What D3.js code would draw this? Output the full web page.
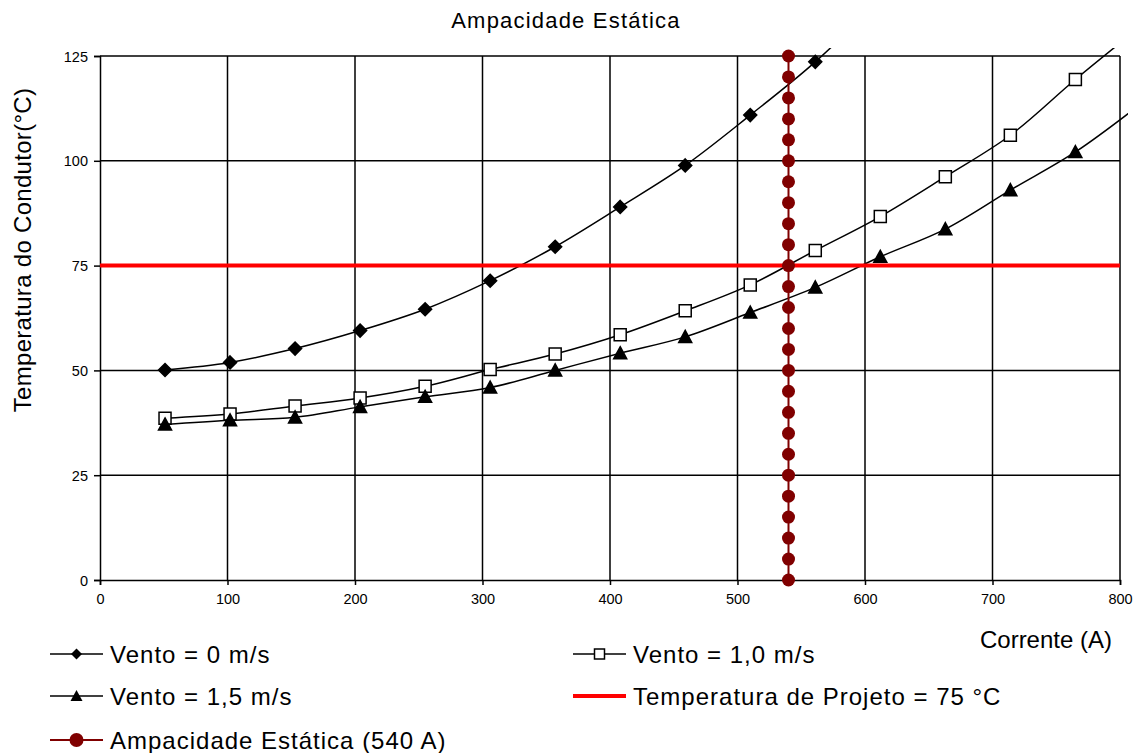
<!DOCTYPE html>
<html><head><meta charset="utf-8">
<script src="https://cdn.jsdelivr.net/npm/d3@7"></script>
<style>
html,body{margin:0;padding:0;background:#fff;}
text{font-family:Arial,"Liberation Sans",sans-serif;fill:#000;}
</style></head>
<body>
<svg id="chart" width="1140" height="753"></svg>
<script>
// ---- data ----
const currents = [51,102,153,204,255,306,357,408,459,510,561,612,663,714,765,816];
const vento0  = [50.1,51.9,55.2,59.5,64.6,71.4,79.5,89.0,98.9,110.9,123.6,138.5];
const vento10 = [38.6,39.6,41.5,43.4,46.2,50.2,53.9,58.5,64.2,70.4,78.6,86.7,96.2,106.1,119.4,132.0];
const vento15 = [37.1,38.1,38.8,41.3,43.7,45.9,50.0,54.1,58.0,63.8,69.8,77.1,83.7,93.0,102.1,113.5];
const projetoX = [0,800];
const projetoTemp = [75,75];
const ampX = 540;
const ampY = [0,5,10,15,20,25,30,35,40,45,50,55,60,65,70,75,80,85,90,95,100,105,110,115,120,125];
const xTicks = [0,100,200,300,400,500,600,700,800];
const yTicks = [0,25,50,75,100,125];
const seriesNames = ["Vento = 0 m/s","Vento = 1,0 m/s","Vento = 1,5 m/s","Temperatura de Projeto = 75 °C","Ampacidade Estática (540 A)"];

// ---- layout ----
const L=100,R=1120,T=56,B=580;
const svg=d3.select("#chart");
const x=d3.scaleLinear().domain([0,800]).range([L,R]);
const y=d3.scaleLinear().domain([0,125]).range([B,T]);

// title
svg.append("text").attr("x",566).attr("y",28).attr("text-anchor","middle")
  .style("font-size","22px").style("letter-spacing","1.2px").text("Ampacidade Estática");

// grid
const g=svg.append("g");
g.selectAll("line.h").data(yTicks.filter(d=>d>0)).join("line")
  .attr("x1",L).attr("x2",R).attr("y1",d=>y(d)).attr("y2",d=>y(d))
  .attr("stroke","#000").attr("stroke-width",1.5);
g.selectAll("line.v").data(xTicks.filter(d=>d>0)).join("line")
  .attr("y1",T).attr("y2",B).attr("x1",d=>x(d)).attr("x2",d=>x(d))
  .attr("stroke","#000").attr("stroke-width",1.5);

// axes
const xAxis=d3.axisBottom(x).tickValues(xTicks).tickSize(5).tickPadding(9).tickFormat(d3.format("d"));
const yAxis=d3.axisLeft(y).tickValues(yTicks).tickSize(6).tickPadding(6).tickFormat(d3.format("d"));
const gx=svg.append("g").attr("transform",`translate(0,${B})`).call(xAxis);
const gy=svg.append("g").attr("transform",`translate(${L},0)`).call(yAxis);
[gx,gy].forEach(a=>{
  a.select(".domain").attr("stroke","#000").attr("stroke-width",1.5);
  a.selectAll(".tick line").attr("stroke","#000").attr("stroke-width",1.5);
  a.selectAll(".tick text").style("font-size","14.5px").attr("fill","#000").style("font-family","Arial, 'Liberation Sans', sans-serif");
});
gy.selectAll(".tick text").attr("dy","0.35em");

// axis titles
svg.append("text").attr("transform","translate(31,250) rotate(-90)").attr("text-anchor","middle")
  .style("font-size","24px").style("letter-spacing","0.3px").text("Temperatura do Condutor(°C)");
svg.append("text").attr("x",1112).attr("y",648).attr("text-anchor","end")
  .style("font-size","24px").text("Corrente (A)");

// clip for series
svg.append("defs").append("clipPath").attr("id","clip").append("rect")
  .attr("x",L-2).attr("y",48).attr("width",R-L+10).attr("height",B-48+2);

const line=d3.line().x(d=>x(d[0])).y(d=>y(d[1])).curve(d3.curveCatmullRom.alpha(0.5));

function diamond(s){return `M0,${-s}L${s},0L0,${s}L${-s},0Z`;}
function square(s){return `M${-s},${-s}H${s}V${s}H${-s}Z`;}
function triangle(s){return `M0,${-s}L${s},${s*0.85}L${-s},${s*0.85}Z`;}

const series=[
  {vals:vento0, marker:diamond, size:6.5, fill:"#000"},
  {vals:vento10, marker:square, size:6, fill:"#fff"},
  {vals:vento15, marker:triangle, size:6.5, fill:"#000"}
];
series.forEach(s=>{
  const pts=s.vals.map((v,i)=>[currents[i],v]);
  svg.append("path").datum(pts).attr("d",line).attr("fill","none")
    .attr("stroke","#000").attr("stroke-width",1.5).attr("clip-path","url(#clip)");
  svg.append("g").selectAll("path").data(pts.filter(p=>p[1]<=125&&p[0]<=800)).join("path")
    .attr("transform",p=>`translate(${x(p[0])},${y(p[1])})`)
    .attr("d",s.marker(s.size)).attr("fill",s.fill).attr("stroke","#000").attr("stroke-width",1.5);
});

// design temperature line
svg.append("line").attr("x1",x(projetoX[0])).attr("x2",x(projetoX[1]))
  .attr("y1",y(projetoTemp[0])).attr("y2",y(projetoTemp[1]))
  .attr("stroke","#ff0000").attr("stroke-width",4);

// ampacity line
svg.append("line").attr("x1",x(ampX)).attr("x2",x(ampX))
  .attr("y1",y(ampY[0])).attr("y2",y(ampY[ampY.length-1]))
  .attr("stroke","#800000").attr("stroke-width",2);
svg.append("g").selectAll("circle").data(ampY).join("circle")
  .attr("cx",x(ampX)).attr("cy",d=>y(d)).attr("r",6.5).attr("fill","#800000");

// legend
const leg=[
  {cx:50, cy:654, name:seriesNames[0], m:"diamond"},
  {cx:573,cy:654, name:seriesNames[1], m:"square"},
  {cx:50, cy:696, name:seriesNames[2], m:"triangle"},
  {cx:573,cy:696, name:seriesNames[3], m:"red"},
  {cx:50, cy:740, name:seriesNames[4], m:"circle"}
];
leg.forEach(l=>{
  const gg=svg.append("g").attr("transform",`translate(${l.cx},${l.cy})`);
  const col=l.m==="red"?"#ff0000":(l.m==="circle"?"#800000":"#000");
  gg.append("line").attr("x1",0).attr("x2",53).attr("y1",0).attr("y2",0)
    .attr("stroke",col).attr("stroke-width",l.m==="red"?4:(l.m==="circle"?2:1.5));
  if(l.m==="diamond") gg.append("path").attr("transform","translate(26.5,0)").attr("d",diamond(5.5)).attr("fill","#000");
  if(l.m==="square") gg.append("path").attr("transform","translate(26.5,0)").attr("d",square(5)).attr("fill","#fff").attr("stroke","#000").attr("stroke-width",1.5);
  if(l.m==="triangle") gg.append("path").attr("transform","translate(26.5,0)").attr("d",triangle(6)).attr("fill","#000");
  if(l.m==="circle") gg.append("circle").attr("cx",26.5).attr("cy",0).attr("r",7).attr("fill","#800000");
  gg.append("text").attr("x",60).attr("y",8.5).style("font-size","24px").style("letter-spacing","1px").text(l.name);
});
</script>
</body></html>
